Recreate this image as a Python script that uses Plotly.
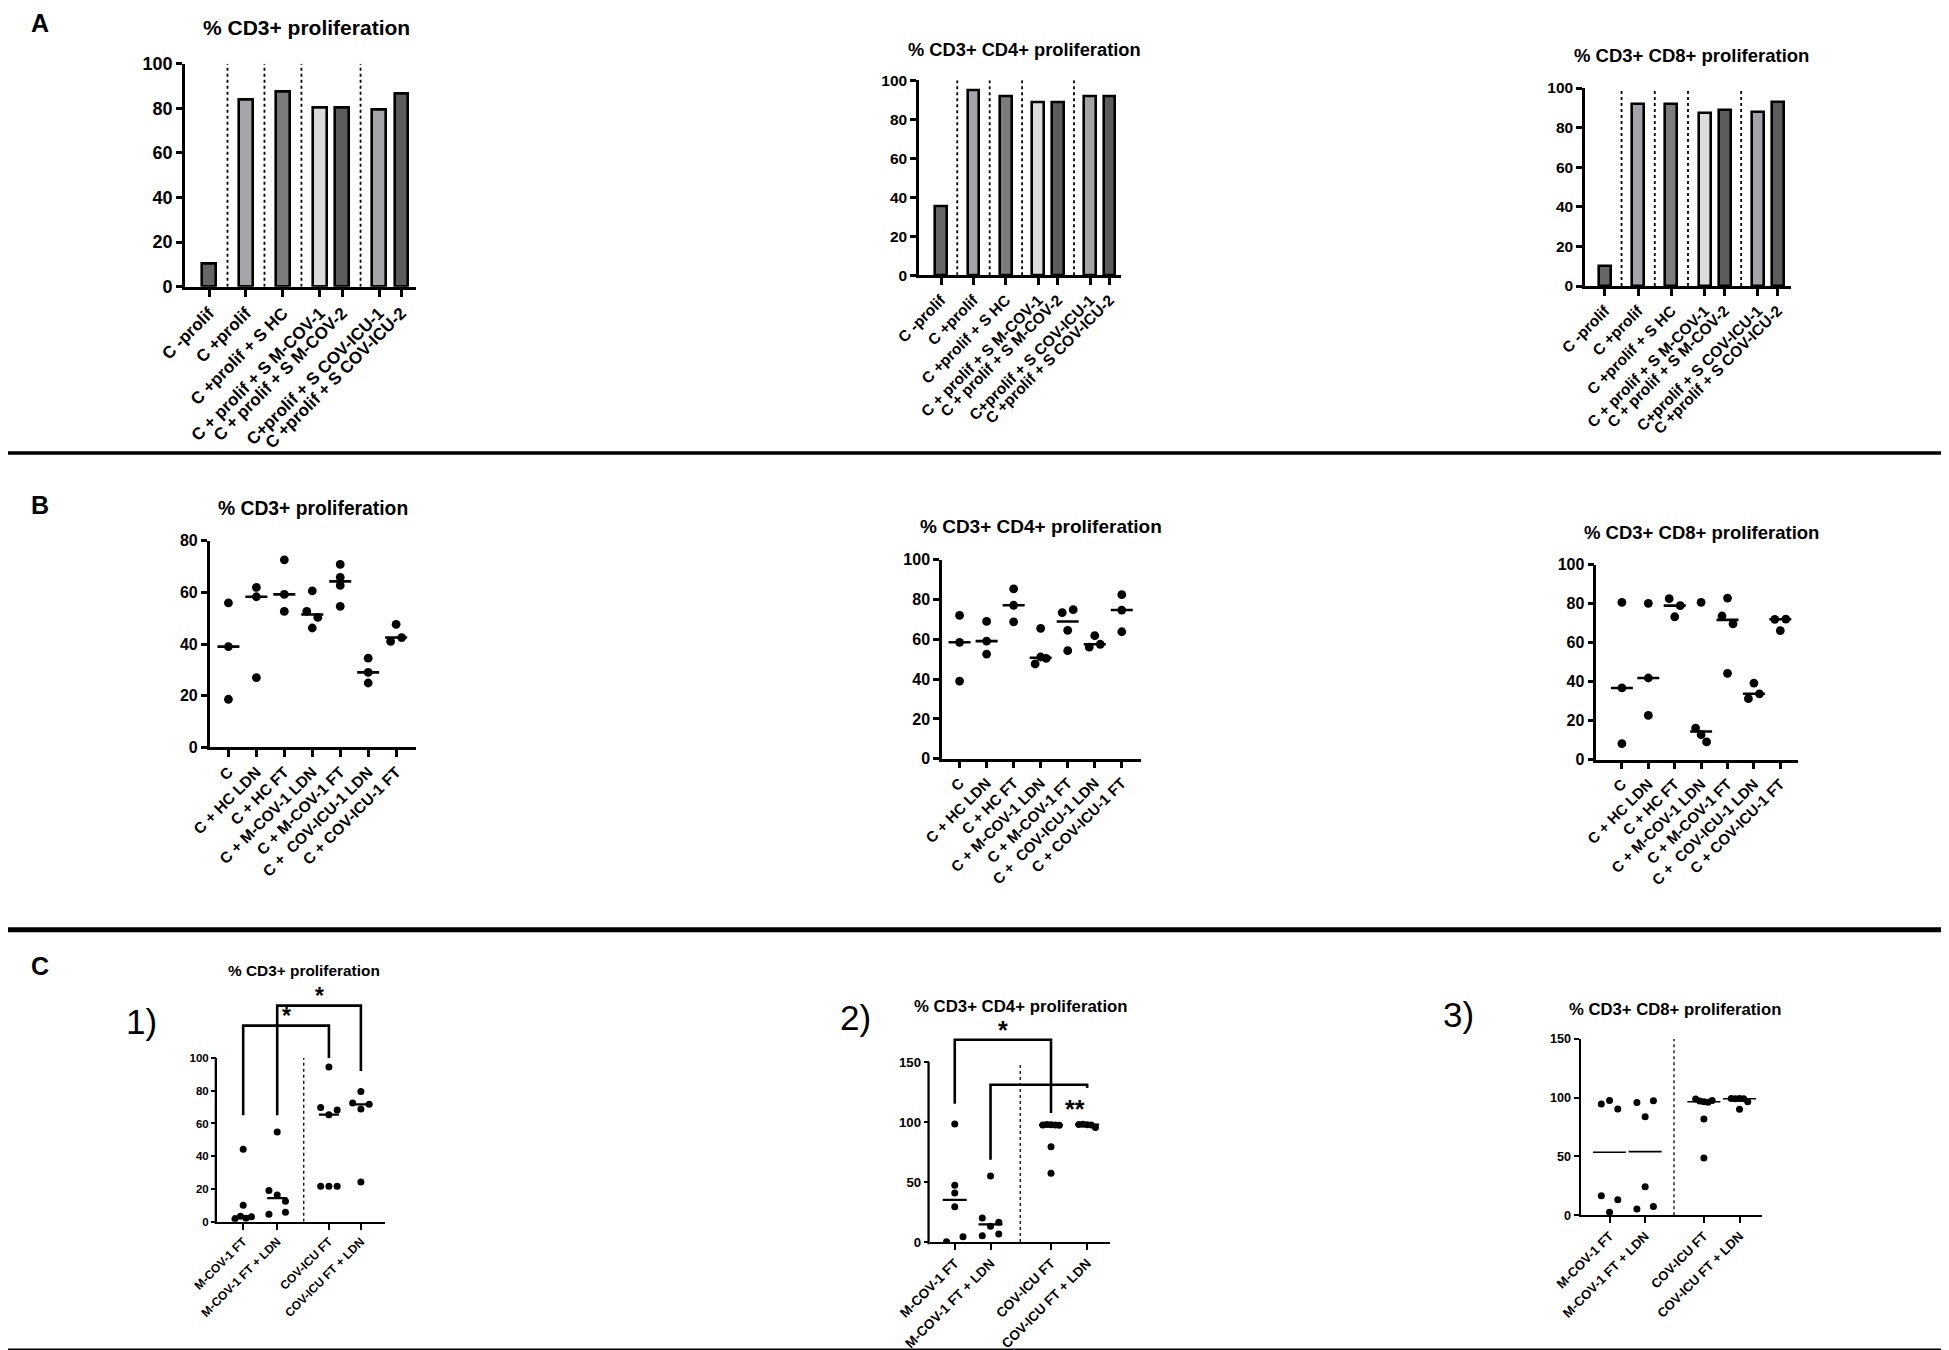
import numpy as np
import plotly.graph_objects as go

W, H = 1949, 1350
FONT = "Liberation Sans, Arial, Helvetica, sans-serif"

# ------------------------------------------------------------------ data
# Panel A (bar charts)
A_categories = ["C -prolif", "C +prolif", "C +prolif + S HC", "C + prolif + S M-COV-1",
                "C + prolif + S M-COV-2", "C+prolif + S COV-ICU-1", "C +prolif + S COV-ICU-2"]
A_cd3 = [10.2, 84.0, 87.6, 80.4, 80.4, 79.4, 86.5]
A_cd3_cd4 = [35.4, 94.9, 92.0, 88.9, 88.9, 91.8, 92.0]
A_cd3_cd8 = [10.3, 91.8, 91.9, 87.6, 89.1, 87.9, 92.9]

# Panel B (scatter dot plots, one list per group)
B_categories = ["C", "C + HC LDN", "C + HC FT", "C + M-COV-1 LDN", "C + M-COV-1 FT",
                "C +\u00a0 COV-ICU-1 LDN", "C + COV-ICU-1 FT"]
B_cd3 = [[55.9, 39.0, 18.6], [61.9, 58.3, 27.0], [72.6, 59.2, 52.6], [60.6, 52.6, 50.3, 46.2],
         [70.8, 65.8, 62.7, 54.6], [34.5, 29.0, 24.9], [47.6, 41.0, 42.5]]
B_cd3_cd4 = [[72.0, 58.5, 39.0], [69.0, 59.1, 52.6], [85.3, 77.1, 68.8], [65.5, 47.6, 51.1, 50.4],
             [73.4, 74.9, 64.5, 54.3], [56.1, 61.8, 57.5], [82.4, 74.7, 63.8]]
B_cd3_cd8 = [[80.7, 36.8, 8.2], [80.2, 41.9, 22.7], [82.6, 79.0, 73.3], [80.7, 16.2, 12.8, 9.1],
             [82.9, 73.7, 69.7, 44.3], [31.3, 39.3, 33.8], [72.0, 72.1, 66.2]]

# Panel C (scatter dot plots)
C_categories = ["M-COV-1 FT", "M-COV-1 FT + LDN", "COV-ICU FT", "COV-ICU FT + LDN"]
C_cd3 = [[44.2, 10.0, 1.7, 3.3, 2.1, 3.1], [54.8, 19.0, 16.3, 12.5, 4.6, 5.8],
         [94.5, 69.7, 65.4, 68.2, 21.6, 21.6, 21.6], [79.6, 72.5, 68.8, 71.7, 24.2]]
C_cd3_cd4 = [[98.3, 47.2, 40.8, 29.4, 0.3, 4.4], [55.0, 20.0, 13.1, 16.4, 5.3, 6.7],
             [97.6, 98.0, 97.8, 97.5, 97.3, 79.4, 57.2], [98.0, 98.2, 97.8, 97.5, 95.5]]
C_cd3_cd8 = [[94.5, 97.6, 90.3, 16.7, 13.3, 2.5], [95.9, 97.4, 83.8, 24.3, 5.4, 7.4],
             [98.8, 97.0, 96.5, 96.0, 97.5, 81.8, 48.7], [99.3, 99.0, 99.3, 99.0, 96.5, 90.0]]

# significance comparisons: (group i, group j, bar top, left leg end, right leg end, label)
C1_sig = [(0, 2, 119.8, 65.0, 100.0, "*"), (1, 3, 132.0, 65.0, 92.0, "*")]
C2_sig = [(0, 2, 168.6, 115.3, 107.5, "*"), (1, 3, 131.1, 68.6, 128.3, "**")]

titles = ["% CD3+ proliferation", "% CD3+ CD4+ proliferation", "% CD3+ CD8+ proliferation"]

# ------------------------------------------------------------------ styles / layout constants
A_colors = ["#666666", "#a4a4a9", "#7c7c7c", "#dcdcdc", "#5c5c5c", "#a4a4a9", "#5c5c5c"]
A_POS = [0, 1, 2, 3, 3.6, 4.6, 5.2]
A_SEPS = [0.5, 1.5, 2.5, 4.1]
B_POS = list(range(7))
C_POS = {7: [0, 1, 2.52, 3.46], 8: [0, 1, 2.69, 3.70], 9: [0, 1, 2.65, 3.65]}
C_SEP = {7: 1.78, 8: 1.83, 9: 1.81}

# k: (x0px, x1px, y0px[value 0], ticktop_px, ticktop_val, domtop_px, xrange, ytick step, yfont, xfont, lw)
GEOM = {
    1: (177, 408, 278.7, 55.7, 100, 55.7, (-0.65, 5.6), 20, 18, 17, 2.7),
    2: (911, 1113, 267.3, 72.3, 100, 72.3, (-0.68, 5.55), 20, 15.5, 15.5, 2.5),
    3: (1577, 1783, 278, 80, 100, 80, (-0.6, 5.6), 20, 15.5, 15.5, 2.5),
    4: (201.7, 407.7, 739.3, 532.7, 80, 532.7, (-0.67, 6.7), 20, 16, 15.5, 2.5),
    5: (934, 1132.7, 750.7, 551.7, 100, 551.7, (-0.65, 6.7), 20, 16, 15, 2.5),
    6: (1588.3, 1790, 751.7, 556.7, 100, 556.7, (-0.97, 6.67), 20, 16, 15, 2.5),
    7: (209, 376.7, 1213.7, 1050, 100, 975, (-0.77, 4.16), 20, 11.5, 12, 2.3),
    8: (921.7, 1101.7, 1234, 1054, 150, 1012, (-0.70, 4.33), 50, 13.2, 13.5, 2.3),
    9: (1572.7, 1754.3, 1207.3, 1030.7, 150, 1030.7, (-0.81, 4.29), 50, 12.6, 13, 2.1),
}
TITLE_POS = {1: (298, 19, 21), 2: (1017, 41, 18.3), 3: (1683, 47, 18.5),
             4: (305, 500, 19.3), 5: (1033, 519, 19), 6: (1693, 525, 18.5),
             7: (296, 962, 15.4), 8: (1013, 998, 16.8), 9: (1667, 1001, 16.7)}


def fx(p):
    return p / W


def fy(p):
    return 1 - p / H


fig = go.Figure()
shapes, annotations, axes = [], [], {}
SCALE = {}


def axname(k, a):
    return a if k == 1 else f"{a}{k}"


def setup(k, ticks, labels):
    x0, x1, y0, tt, ttv, dt, xr, ystep, yfs, xfs, lw = GEOM[k]
    ppu_y = (y0 - tt) / ttv
    ppu_x = (x1 - x0) / (xr[1] - xr[0])
    SCALE[k] = (ppu_x, ppu_y)
    ymax = (y0 - dt) / ppu_y
    custom_line = dt < tt - 0.5
    axes[axname(k, "xaxis")] = dict(
        domain=[fx(x0), fx(x1)], range=list(xr), anchor=axname(k, "y"),
        tickmode="array", tickvals=ticks, ticktext=labels, tickangle=-45,
        ticks="outside", ticklen=7 if k < 7 else 6, tickwidth=lw, tickcolor="black",
        showline=True, linewidth=lw, linecolor="black", showgrid=False, zeroline=False,
        tickfont=dict(family=FONT, size=xfs, color="black", weight="bold"),
        automargin=False, fixedrange=True)
    axes[axname(k, "yaxis")] = dict(
        domain=[fy(y0), fy(dt)], range=[0, ymax], anchor=axname(k, "x"),
        tickmode="array", tickvals=list(np.arange(0, ttv + 0.1, ystep)),
        ticks="outside", ticklen=6 if k < 7 else 5, tickwidth=lw, tickcolor="black",
        showline=not custom_line, linewidth=lw, linecolor="black",
        showgrid=False, zeroline=False,
        tickfont=dict(family=FONT, size=yfs, color="black", weight="bold"),
        automargin=False, fixedrange=True)
    if custom_line:
        xl = fx(x0 - lw / 2)
        shapes.append(dict(type="line", xref="paper", yref="paper", x0=xl, x1=xl,
                           y0=fy(y0 + lw), y1=fy(tt), line=dict(color="black", width=lw)))
    tx, ty, ts = TITLE_POS[k]
    annotations.append(dict(text=titles[(k - 1) % 3], xref="paper", yref="paper",
                            x=fx(tx), y=fy(ty), xanchor="center", yanchor="middle",
                            showarrow=False,
                            font=dict(family=FONT, size=ts, color="black", weight="bold")))


def vline(k, x, ytop, width=1.6):
    shapes.append(dict(type="line", xref=axname(k, "x"), yref=axname(k, "y"), x0=x, x1=x,
                       y0=0, y1=ytop, line=dict(color="black", width=width, dash="dot")))


def swarm_x(vals, center, ppu_x, ppu_y, dcol, width):
    n = len(vals)
    order = sorted(range(n), key=lambda i: vals[i])
    clusters, cur = [], [order[0]]
    for a, b in zip(order, order[1:]):
        if (vals[b] - vals[a]) * ppu_y < dcol:
            cur.append(b)
        else:
            clusters.append(cur)
            cur = [b]
    clusters.append(cur)
    off = [0.0] * n
    for cl in clusters:
        m = len(cl)
        if m > 1:
            for r, i in enumerate(sorted(cl)):
                off[i] = (-width / 2 + width * r / (m - 1)) / ppu_x
    return [center + o for o in off]


def dot_panel(k, groups, pos, dot, dcol, width, half_med, med_w):
    ppu_x, ppu_y = SCALE[k]
    xs, ys, mx, my = [], [], [], []
    for g, c in zip(groups, pos):
        xs += swarm_x(g, c, ppu_x, ppu_y, dcol, width)
        ys += list(g)
        m = float(np.median(g))
        mx += [c - half_med / ppu_x, c + half_med / ppu_x, None]
        my += [m, m, None]
    fig.add_trace(go.Scatter(x=mx, y=my, mode="lines", line=dict(color="black", width=med_w),
                             xaxis=axname(k, "x"), yaxis=axname(k, "y"), showlegend=False,
                             hoverinfo="skip"))
    fig.add_trace(go.Scatter(x=xs, y=ys, mode="markers",
                             marker=dict(color="black", size=dot, line=dict(width=0)),
                             xaxis=axname(k, "x"), yaxis=axname(k, "y"), showlegend=False))


def brackets(k, pos, specs, label_font, override=None):
    ppu_x, ppu_y = SCALE[k]
    for n, (i, j, top, lb, rb, lab) in enumerate(specs):
        fig.add_trace(go.Scatter(x=[pos[i], pos[i], pos[j], pos[j]], y=[lb, top, top, rb],
                                 mode="lines", line=dict(color="black", width=2.6),
                                 xaxis=axname(k, "x"), yaxis=axname(k, "y"),
                                 showlegend=False, hoverinfo="skip"))
        lx, ly = (pos[i] + pos[j]) / 2, top + 10 / ppu_y
        if override and n in override:
            lx, ly = override[n]
        annotations.append(dict(text=lab, xref=axname(k, "x"), yref=axname(k, "y"), x=lx, y=ly,
                                xanchor="center", yanchor="middle", showarrow=False,
                                font=dict(family=FONT, size=label_font, color="black",
                                          weight="bold")))


# ------------------------------------------------------------------ panel A
for k, vals in zip([1, 2, 3], [A_cd3, A_cd3_cd4, A_cd3_cd8]):
    setup(k, A_POS, A_categories)
    fig.add_trace(go.Bar(x=A_POS, y=vals, width=0.36,
                         marker=dict(color=A_colors, line=dict(color="black", width=2.6)),
                         xaxis=axname(k, "x"), yaxis=axname(k, "y"), showlegend=False))
    for s in A_SEPS:
        vline(k, s, 100, 1.8)

# ------------------------------------------------------------------ panel B
for k, groups in zip([4, 5, 6], [B_cd3, B_cd3_cd4, B_cd3_cd8]):
    setup(k, B_POS, B_categories)
    dot_panel(k, groups, B_POS, dot=8.8, dcol=7.9, width=11, half_med=11, med_w=2.6)

# ------------------------------------------------------------------ panel C
for k, groups in zip([7, 8, 9], [C_cd3, C_cd3_cd4, C_cd3_cd8]):
    setup(k, C_POS[k], C_categories)
    vline(k, C_SEP[k], GEOM[k][4], 1.3)
    half = {7: 10, 8: 12, 9: 16.5}[k]
    mw = {7: 2.4, 8: 2.2, 9: 1.6}[k]
    dot_panel(k, groups, C_POS[k], dot=7, dcol=7.5, width=16.5, half_med=half, med_w=mw)

brackets(7, C_POS[7], C1_sig, 23)
brackets(8, C_POS[8], C2_sig, 25, override={1: (3.35, 110.5)})

# ------------------------------------------------------------------ labels and separators
for txt, (px, py) in zip(["A", "B", "C"], [(32, 15), (32, 497), (32, 958)]):
    annotations.append(dict(text=txt, xref="paper", yref="paper", x=fx(px), y=fy(py),
                            xanchor="center", yanchor="middle", showarrow=False,
                            font=dict(family=FONT, size=25, color="black", weight="bold")))
for txt, (px, py) in zip(["1)", "2)", "3)"], [(133, 1014), (847, 1009), (1450, 1007)]):
    annotations.append(dict(text=txt, xref="paper", yref="paper", x=fx(px), y=fy(py),
                            xanchor="center", yanchor="middle", showarrow=False,
                            font=dict(family=FONT, size=35, color="black")))
for py, lw in [(445, 3.6), (921.7, 5), (1343, 5)]:
    shapes.append(dict(type="line", xref="paper", yref="paper", x0=0, x1=1, y0=fy(py), y1=fy(py),
                       line=dict(color="black", width=lw)))

fig.update_layout(width=W, height=H, margin=dict(l=0, r=0, t=0, b=0),
                  paper_bgcolor="white", plot_bgcolor="white",
                  shapes=shapes, annotations=annotations, showlegend=False,
                  font=dict(family=FONT, color="black"), bargap=0, **axes)

fig.write_html("out.html")
